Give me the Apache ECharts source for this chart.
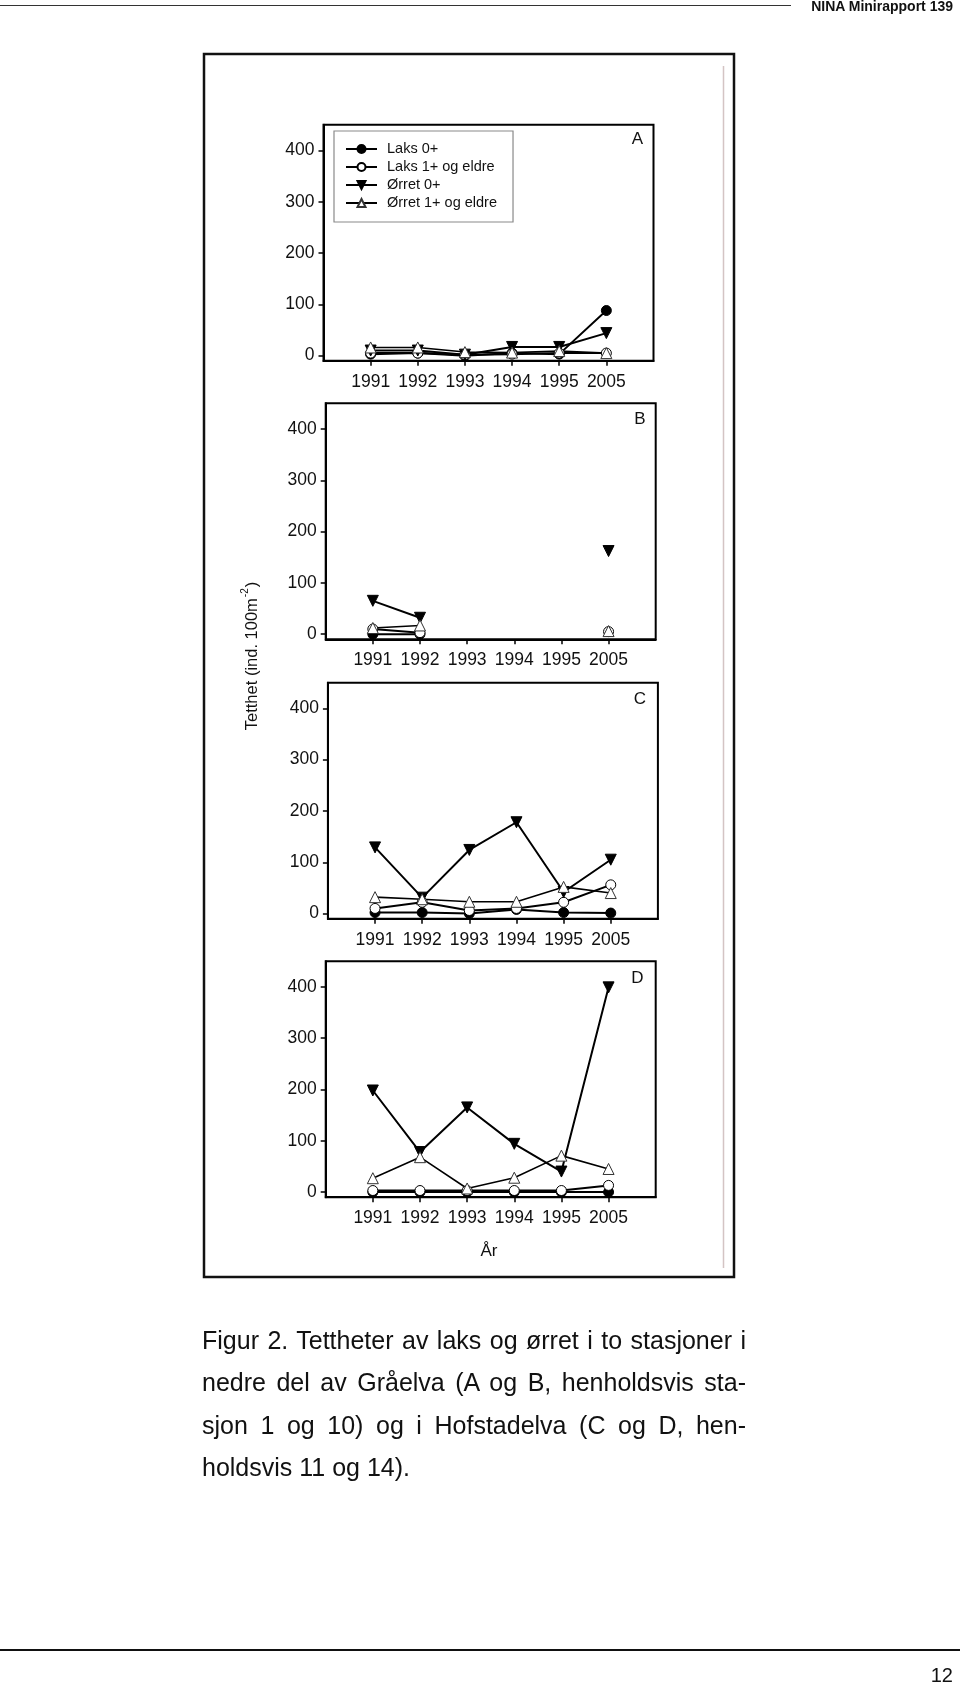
<!DOCTYPE html>
<html>
<head>
<meta charset="utf-8">
<script src="https://cdn.jsdelivr.net/npm/echarts@6/dist/echarts.min.js"></script>
<style>
  html, body { margin:0; padding:0; background:#fff; }
  body { width:960px; height:1685px; position:relative; overflow:hidden; font-family:"Liberation Sans", Arial, sans-serif; color:#111; }
  #chart { position:absolute; left:0; top:0; width:960px; height:1685px; }
  .hdrline { position:absolute; left:0; top:4.5px; width:791px; height:0; border-top:1.5px solid #333; }
  .hdr { position:absolute; right:7px; top:-2px; font-family:"Liberation Sans Narrow", "Liberation Sans", Arial, sans-serif; font-stretch:condensed; font-weight:bold; font-size:14px; color:#111; }
  .ftrline { position:absolute; left:0; top:1649px; width:960px; height:0; border-top:2px solid #111; }
  .ftr { position:absolute; right:7px; top:1664px; font-family:"Liberation Sans Narrow", "Liberation Sans", Arial, sans-serif; font-stretch:condensed; font-size:20px; color:#111; }
  .cap { position:absolute; left:202px; top:1319px; width:544px; font-size:25px; line-height:42.3px; color:#111; }
  .cap div { text-align:justify; text-align-last:justify; white-space:normal; }
  .cap div.last { text-align:left; text-align-last:left; }
</style>
</head>
<body>
<div id="chart"></div>
<div class="hdrline"></div>
<div class="hdr">NINA Minirapport 139</div>
<div class="cap">
  <div>Figur 2. Tettheter av laks og ørret i to stasjoner i</div>
  <div>nedre del av Gråelva (A og B, henholdsvis sta-</div>
  <div>sjon 1 og 10) og i Hofstadelva (C og D, hen-</div>
  <div class="last">holdsvis 11 og 14).</div>
</div>
<div class="ftrline"></div>
<div class="ftr">12</div>
<script>
// ---- data ----
const years = ['1991', '1992', '1993', '1994', '1995', '2005'];
const yTicks = [0, 100, 200, 300, 400];
const seriesNames = ['Laks 0+', 'Laks 1+ og eldre', 'Ørret 0+', 'Ørret 1+ og eldre'];
const panelLabels = ['A', 'B', 'C', 'D'];
const yTitle = 'Tetthet (ind. 100m';
const yTitleSup = '-2';
const xTitle = 'År';

// Panel A
const laks0A  = [3, 5, 0, 5, 3, 88];
const laks1A  = [5, 5, 2, 3, 5, 5];
const orret0A = [10, 10, 2, 17, 17, 44];
const orret1A = [16, 16, 7, 6, 9, 5];
// Panel B
const laks0B  = [0, 0, null, null, null, null];
const laks1B  = [10, 3, null, null, null, 5];
const orret0B = [65, 32, null, null, null, 162];
const orret1B = [12, 17, null, null, null, 6];
// Panel C
const laks0C  = [2, 2, 0, 8, 2, 1];
const laks1C  = [10, 22, 6, 10, 22, 56];
const orret0C = [129, 31, 124, 178, 42, 105];
const orret1C = [32, 28, 23, 23, 52, 40];
// Panel D
const laks0D  = [0, 0, 0, 0, 0, 0];
const laks1D  = [3, 3, 3, 3, 3, 13];
const orret0D = [198, 78, 165, 94, 40, 399];
const orret1D = [27, 68, 7, 28, 71, 45];

const panels = [
  [laks0A, laks1A, orret0A, orret1A],
  [laks0B, laks1B, orret0B, orret1B],
  [laks0C, laks1C, orret0C, orret1C],
  [laks0D, laks1D, orret0D, orret1D]
];

// ---- layout / style ----
const FONT = '"Liberation Sans", Arial, sans-serif';
const gridPos = [
  { left: 323.5, top: 124.8 },
  { left: 325.7, top: 403.3 },
  { left: 327.9, top: 682.7 },
  { left: 325.7, top: 961.2 }
];
const GW = 330, GH = 236;
const xIdx = years.map((_, i) => i);

const styles = [
  { symbol: 'circle', symbolSize: 10, symbolRotate: 0, itemStyle: { color: '#000', borderColor: '#000', borderWidth: 1 }, lw: 2 },
  { symbol: 'circle', symbolSize: 10, symbolRotate: 0, itemStyle: { color: '#fff', borderColor: '#000', borderWidth: 1 }, lw: 2 },
  { symbol: 'triangle', symbolSize: 11, symbolRotate: 180, itemStyle: { color: '#000', borderColor: '#000', borderWidth: 1 }, lw: 2 },
  { symbol: 'triangle', symbolSize: 11, symbolRotate: 0, itemStyle: { color: '#fff', borderColor: '#333', borderWidth: 1 }, lw: 1.6 }
];

const grids = [], xAxes = [], yAxes = [], series = [];
panels.forEach((pdata, p) => {
  grids.push({
    left: gridPos[p].left, top: gridPos[p].top, width: GW, height: GH,
    show: true, borderColor: '#000', borderWidth: 2, backgroundColor: 'transparent',
    containLabel: false, outerBoundsMode: 'none'
  });
  xAxes.push({
    type: 'value', gridIndex: p, min: -1, max: 6, position: 'bottom',
    axisLine: { show: true, onZero: false, lineStyle: { color: '#000', width: 2 } },
    axisTick: { show: true, inside: false, length: 5, customValues: xIdx, lineStyle: { color: '#000', width: 1.5 } },
    axisLabel: { show: true, customValues: xIdx, formatter: v => years[Math.round(v)] || '', fontSize: 17.5, color: '#111', fontFamily: FONT, margin: 12 },
    splitLine: { show: false }
  });
  yAxes.push({
    type: 'value', gridIndex: p, min: -10, max: 450, position: 'left',
    axisLine: { show: true, onZero: false, lineStyle: { color: '#000', width: 2 } },
    axisTick: { show: true, inside: false, length: 5, customValues: yTicks, lineStyle: { color: '#000', width: 1.5 } },
    axisLabel: { show: true, customValues: yTicks, fontSize: 17.5, color: '#111', fontFamily: FONT, margin: 9 },
    splitLine: { show: false }
  });
  pdata.forEach((vals, s) => {
    const st = styles[s];
    series.push({
      type: 'line', name: seriesNames[s], xAxisIndex: p, yAxisIndex: p,
      data: vals.map((v, i) => [i, v === null ? '-' : v]),
      symbol: st.symbol, symbolSize: st.symbolSize, symbolRotate: st.symbolRotate,
      showSymbol: true, showAllSymbol: true, connectNulls: false,
      itemStyle: st.itemStyle,
      lineStyle: { color: '#000', width: st.lw },
      emphasis: { disabled: true }, animation: false, silent: true
    });
  });
});

const letterPos = [[637.5, 139.7], [640, 419], [640, 699], [637.5, 978]];
const graphics = [
  { type: 'rect', shape: { x: 204, y: 54, width: 530, height: 1223 }, style: { fill: 'none', stroke: '#111', lineWidth: 2.5 }, z: 100 },
  { type: 'line', shape: { x1: 723.5, y1: 66, x2: 723.5, y2: 1268 }, style: { stroke: '#d4c4c4', lineWidth: 1.5 }, z: 100 },
  { type: 'text', x: 489, y: 1251, style: { text: xTitle, font: '17px ' + FONT, fill: '#111', textAlign: 'center', textVerticalAlign: 'middle' }, z: 100 },
  {
    type: 'text', x: 250.5, y: 656, rotation: Math.PI / 2,
    style: {
      text: '{a|' + yTitle + '}{s|' + yTitleSup + '}{a|)}',
      align: 'center', verticalAlign: 'middle',
      rich: {
        a: { fontSize: 16.5, fontFamily: FONT, fill: '#111', lineHeight: 20, verticalAlign: 'bottom' },
        s: { fontSize: 10, fontFamily: FONT, fill: '#111', lineHeight: 20, verticalAlign: 'top', padding: [0, 1, 0, 1] }
      }
    }, z: 100
  }
];
panelLabels.forEach((t, i) => {
  graphics.push({ type: 'text', x: letterPos[i][0], y: letterPos[i][1], style: { text: t, font: '17px ' + FONT, fill: '#111', textAlign: 'center', textVerticalAlign: 'middle' }, z: 100 });
});

const chart = echarts.init(document.getElementById('chart'), null, { renderer: 'canvas', width: 960, height: 1685 });
chart.setOption({
  animation: false,
  backgroundColor: '#fff',
  textStyle: { fontFamily: FONT },
  grid: grids, xAxis: xAxes, yAxis: yAxes, series: series,
  legend: {
    show: true, data: seriesNames, orient: 'vertical', left: 334, top: 131,
    selectedMode: false, backgroundColor: '#fff', borderColor: '#8a8a8a', borderWidth: 1.2,
    padding: [10, 16, 11, 11], itemGap: 2, itemWidth: 31, itemHeight: 10,
    textStyle: { fontSize: 14.5, color: '#111', fontFamily: FONT, lineHeight: 16, padding: [0, 0, 0, 5] }
  },
  graphic: graphics
});
</script>
</body>
</html>
